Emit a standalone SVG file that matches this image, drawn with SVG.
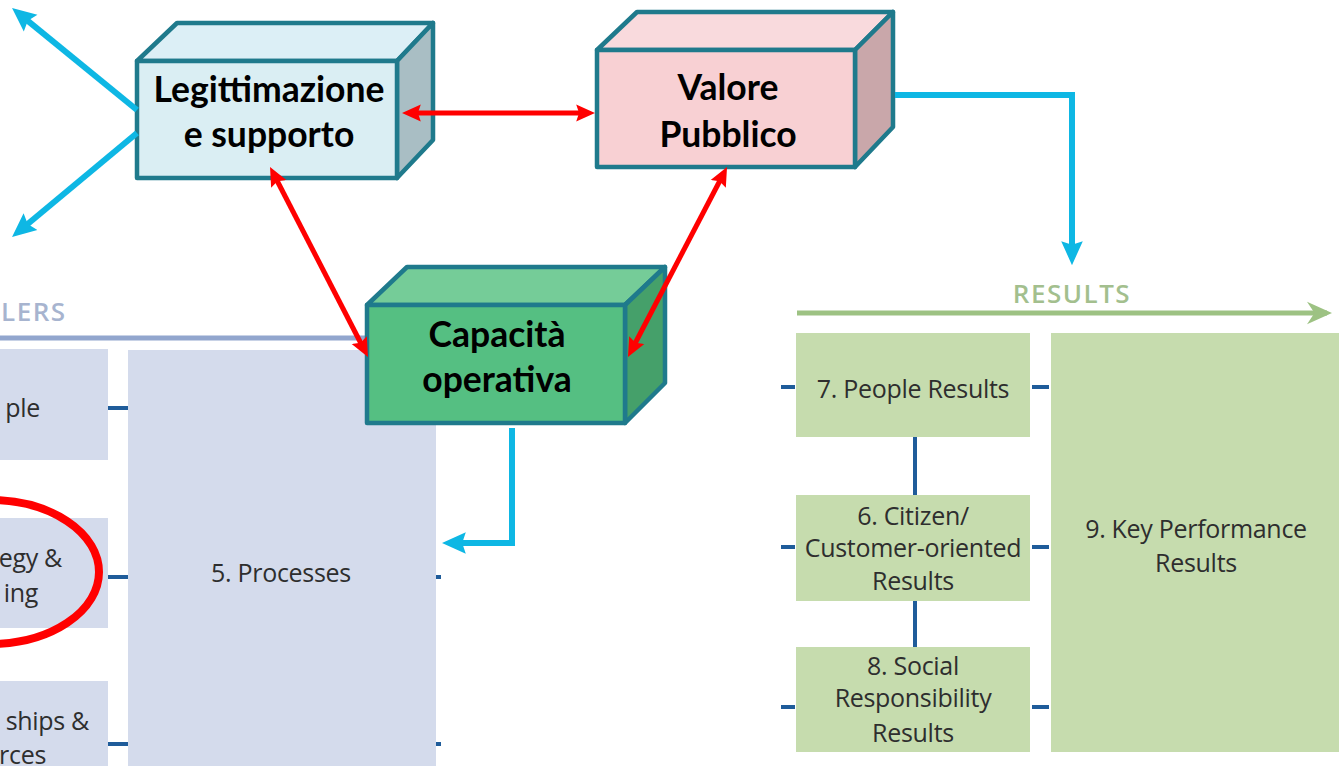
<svg xmlns="http://www.w3.org/2000/svg" width="1339" height="766" viewBox="0 0 1339 766">
<defs>
<style>
.edge{stroke:#1F7A8C;stroke-width:4.5;stroke-linejoin:round}
.t3d{font-family:Lato,"Liberation Sans",sans-serif;font-weight:bold;font-size:35.5px;text-anchor:middle;fill:#000}
.lbl{font-family:"Open Sans","Noto Sans",sans-serif;font-size:25px;fill:#2e2e2e;text-anchor:middle;letter-spacing:-0.3px}
.lblL{font-family:"Open Sans","Noto Sans",sans-serif;font-size:25px;fill:#2e2e2e;text-anchor:end;letter-spacing:-0.3px}
.head{font-family:"Open Sans","Noto Sans",sans-serif;font-weight:600;font-size:26px;letter-spacing:1.5px}
.enabler{fill:#D4DBEC}
.result{fill:#C6DCAE}
.tick{stroke:#1F5C9A;stroke-width:4;fill:none}
.red{stroke:#FF0000;stroke-width:5;fill:none;marker-start:url(#ra);marker-end:url(#ra)}
.blue{stroke:#0EB7E4;stroke-width:6;fill:none;marker-end:url(#ba)}
</style>
<marker id="ra" viewBox="0 0 10 10" refX="2" refY="5" markerWidth="3.8" markerHeight="3.8" orient="auto-start-reverse" markerUnits="strokeWidth">
<path d="M0,0.5 L10,5 L0,9.5 L1.5,5 z" fill="#FF0000"/>
</marker>
<marker id="ba" viewBox="0 0 10 10" refX="2" refY="5" markerWidth="4" markerHeight="4" orient="auto" markerUnits="strokeWidth">
<path d="M0,0.5 L10,5 L0,9.5 L1.5,5 z" fill="#0EB7E4"/>
</marker>
<marker id="ga" viewBox="0 0 10 10" refX="8" refY="5" markerWidth="6" markerHeight="5" orient="auto" markerUnits="strokeWidth">
<path d="M0,0.5 L10,5 L0,9.5 L3,5 z" fill="#9DC283"/>
</marker>
</defs>

<g id="enablers">
<text class="head" x="1" y="321" fill="#A7B4CF" font-size="26" letter-spacing="0.5">LERS</text>
<line x1="0" y1="338" x2="400" y2="338" stroke="#92A6CE" stroke-width="5"/>
<rect class="enabler" x="0" y="349" width="108" height="111"/>
<rect class="enabler" x="0" y="518" width="108" height="110"/>
<rect class="enabler" x="0" y="681" width="108" height="90"/>
<rect class="enabler" x="128" y="350" width="308" height="420"/>
<path class="tick" d="M108,408 H128 M108,577 H128 M108,744 H128 M436,577 H441 M436,744 H441"/>
<text class="lblL" x="40" y="417">ple</text>
<text class="lblL" x="62" y="567">egy &amp;</text>
<text class="lblL" x="38" y="602">ing</text>
<text class="lblL" x="89" y="730">ships &amp;</text>
<text class="lblL" x="46" y="764">rces</text>
<text class="lbl" x="281" y="582">5. Processes</text>
</g>

<g id="highlight">
<ellipse cx="-10" cy="572" rx="109" ry="72" fill="none" stroke="#FF0000" stroke-width="8"/>
</g>

<g id="results">
<text class="head" x="1072" y="303" text-anchor="middle" fill="#A3BF8E">RESULTS</text>
<line x1="797" y1="313" x2="1327" y2="313" stroke="#9DC283" stroke-width="5" marker-end="url(#ga)"/>
<rect class="result" x="796" y="333" width="234" height="104"/>
<rect class="result" x="796" y="495" width="234" height="106"/>
<rect class="result" x="796" y="647" width="234" height="105"/>
<rect class="result" x="1051" y="333" width="290" height="419"/>
<path class="tick" d="M915,437 V495 M915,601 V647 M781,387 H795 M781,547 H795 M781,707 H795 M1032,387 H1049 M1032,547 H1049 M1032,707 H1049"/>
<text class="lbl" x="913" y="398">7. People Results</text>
<text class="lbl" x="913" y="525">6. Citizen/</text>
<text class="lbl" x="913" y="557">Customer-oriented</text>
<text class="lbl" x="913" y="590">Results</text>
<text class="lbl" x="913" y="675">8. Social</text>
<text class="lbl" x="913" y="707">Responsibility</text>
<text class="lbl" x="913" y="742">Results</text>
<text class="lbl" x="1196" y="538">9. Key Performance</text>
<text class="lbl" x="1196" y="572">Results</text>
</g>

<g id="legittimazione">
<polygon class="edge" points="137,61 177,23 433,23 397,61" fill="#DCEFF6"/>
<polygon class="edge" points="397,61 433,23 433,140 397,178" fill="#A9BEC4"/>
<rect class="edge" x="137" y="61" width="260" height="117" fill="#DAEEF3"/>
<text class="t3d" x="269" y="102">Legittimazione</text>
<text class="t3d" x="269" y="147">e supporto</text>
</g>

<g id="valore">
<polygon class="edge" points="597,50 637,12 893,12 855,50" fill="#F9DADD"/>
<polygon class="edge" points="855,50 893,12 893,127 855,167" fill="#C9A7AA"/>
<rect class="edge" x="597" y="50" width="258" height="117" fill="#F8D0D3"/>
<text class="t3d" x="728" y="100">Valore</text>
<text class="t3d" x="728" y="147">Pubblico</text>
</g>

<g id="capacita">
<polygon class="edge" points="367,305 407,267 665,267 625,305" fill="#75CC98"/>
<polygon class="edge" points="625,305 665,267 665,383 625,423" fill="#45A06A"/>
<rect class="edge" x="367" y="305" width="258" height="118" fill="#55BF82"/>
<text class="t3d" x="497" y="347">Capacità</text>
<text class="t3d" x="497" y="392">operativa</text>
</g>

<g id="connectors">
<path class="blue" d="M137,110 L26.9,20.1"/>
<path class="blue" d="M137,133 L26.8,224.7"/>
<path class="blue" d="M895,95 H1072 V246"/>
<path class="blue" d="M512,428 V543 H461"/>
<path class="red" d="M417,113 H580"/>
<path class="red" d="M277,180.5 L361,343.5"/>
<path class="red" d="M720,180.5 L635,343.5"/>
</g>
</svg>
